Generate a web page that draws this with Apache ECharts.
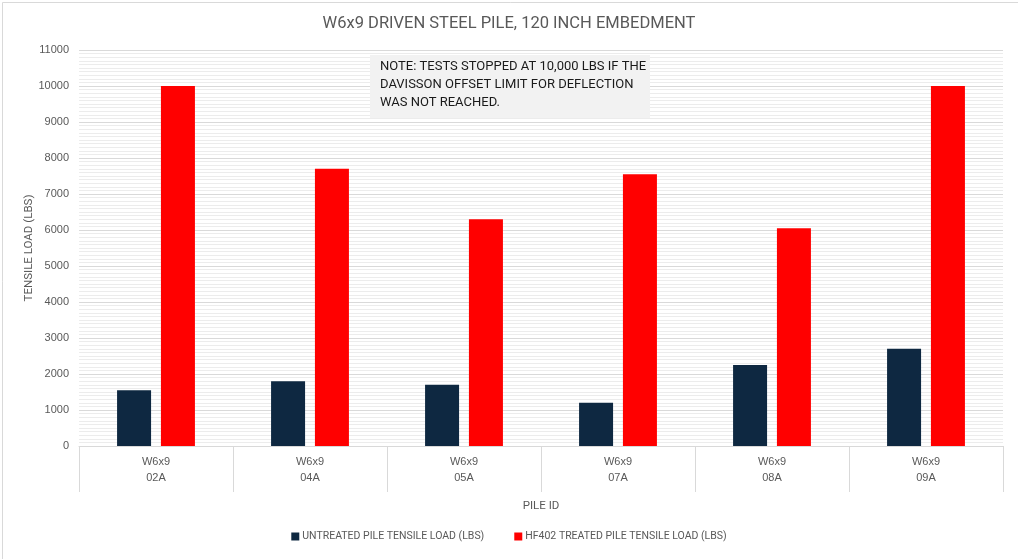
<!DOCTYPE html>
<html><head><meta charset="utf-8">
<script src="https://cdn.jsdelivr.net/npm/echarts@6/dist/echarts.min.js"></script>
<style>html,body{margin:0;padding:0;background:#fff}#c{width:1018px;height:559px}</style>
</head><body><div id="c"></div>
<script>
const pileSize = ['W6x9','W6x9','W6x9','W6x9','W6x9','W6x9'];
const pileIds = ['02A','04A','05A','07A','08A','09A'];
const untreated = [1550, 1800, 1700, 1200, 2250, 2700];
const treated = [10000, 7700, 6300, 7550, 6050, 10000];
const seriesNames = ['UNTREATED PILE TENSILE LOAD (LBS)', 'HF402 TREATED PILE TENSILE LOAD (LBS)'];
const categories = pileIds.map((id, i) => pileSize[i] + '\n' + id);

const chart = echarts.init(document.getElementById('c'));
const txt = '#595959';
const ff = 'Roboto, sans-serif';
chart.setOption({
  animation: false,
  backgroundColor: '#fff',
  title: {
    text: 'W6x9 DRIVEN STEEL PILE, 120 INCH EMBEDMENT',
    left: 'center', top: 10,
    textStyle: { fontFamily: ff, fontSize: 16.5, fontWeight: 'normal', color: txt }
  },
  legend: {
    bottom: 12, left: 'center', itemWidth: 8, itemHeight: 8, itemGap: 30,
    icon: 'rect',
    textStyle: { fontFamily: ff, fontSize: 10.5, color: txt, padding: [0,0,0,-2] },
    data: seriesNames
  },
  grid: { left: 79, right: 15, top: 50, bottom: 113 },
  xAxis: {
    type: 'category', data: categories,
    axisLine: { show: true, lineStyle: { color: '#d9d9d9' } },
    axisTick: { show: true, length: 46, interval: 0, lineStyle: { color: '#d9d9d9' } },
    axisLabel: { interval: 0, margin: 8, lineHeight: 16, fontFamily: 'Liberation Sans, Arial, sans-serif', fontSize: 11, color: txt },
    name: 'PILE ID', nameLocation: 'middle', nameGap: 54, nameMoveOverlap: false,
    nameTextStyle: { fontFamily: ff, fontSize: 11.5, color: txt }
  },
  yAxis: {
    type: 'value', min: 0, max: 11000, interval: 1000,
    axisLine: { show: false }, axisTick: { show: false },
    axisLabel: { margin: 10, formatter: v => String(v), fontFamily: 'Liberation Sans, Arial, sans-serif', fontSize: 11, color: txt },
    splitLine: { lineStyle: { color: '#d9d9d9', width: 1 } },
    minorTick: { show: false, splitNumber: 10 },
    minorSplitLine: { show: true, lineStyle: { color: '#ececec', width: 1 } },
    name: 'TENSILE LOAD (LBS)', nameLocation: 'middle', nameGap: 44, nameRotate: 90, nameMoveOverlap: false,
    nameTextStyle: { fontFamily: ff, fontSize: 11.5, color: txt }
  },
  series: [
    { name: seriesNames[0], type: 'bar', data: untreated, barWidth: 34, barGap: '29%', itemStyle: { color: '#0e2841' } },
    { name: seriesNames[1], type: 'bar', data: treated, barWidth: 34, barGap: '29%', itemStyle: { color: '#ff0000' } }
  ],
  graphic: [
    { type: 'rect', left: 0, top: 0, shape: { x: 0.5, y: 0.5, width: 1017, height: 558 }, style: { fill: 'none', stroke: '#d9d9d9', lineWidth: 1 }, silent: true },
    { type: 'rect', shape: { x: 370, y: 55, width: 280, height: 63 }, style: { fill: '#f2f2f2' }, z: 10 },
    { type: 'text', x: 380, y: 58, z: 11,
      style: { text: 'NOTE: TESTS STOPPED AT 10,000 LBS IF THE\nDAVISSON OFFSET LIMIT FOR DEFLECTION\nWAS NOT REACHED.',
        fontFamily: ff, fontSize: 13, lineHeight: 18, fill: '#1a1a1a' } }
  ]
});
</script></body></html>
